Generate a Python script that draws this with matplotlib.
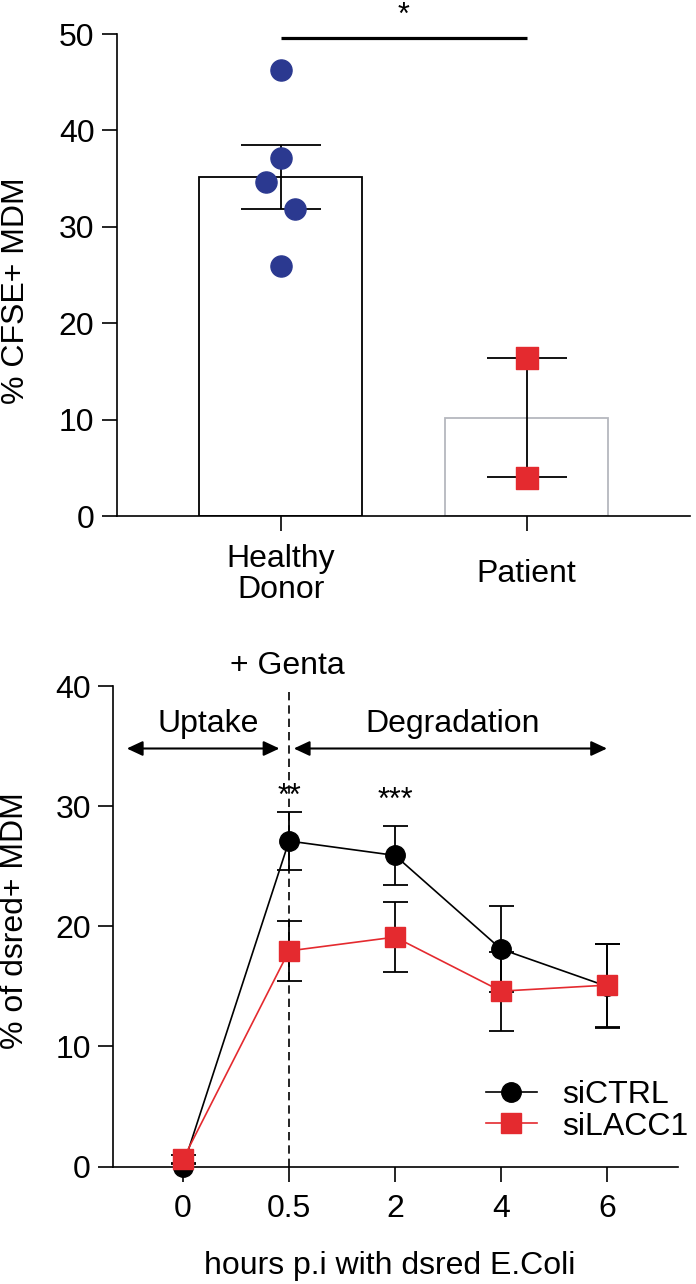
import matplotlib
matplotlib.use('Agg')
import matplotlib.pyplot as plt

plt.rcParams['font.family'] = ['Liberation Sans', 'DejaVu Sans']

# --- data, top panel (CFSE uptake) ---
groups = ['Healthy\nDonor', 'Patient']
bar_means = [35.2, 10.2]
bar_err = [3.3, 6.2]
healthy_pts = [46.3, 37.1, 34.6, 31.9, 25.9]
patient_pts = [16.4, 3.9]

# --- data, bottom panel (dsred kinetics) ---
hours = ['0', '0.5', '2', '4', '6']
ctrl = [0.0, 27.1, 25.9, 18.1, 15.0]
ctrl_err = [0.3, 2.4, 2.45, 3.6, 3.5]
lacc = [0.6, 17.95, 19.1, 14.6, 15.1]
lacc_err = [0.4, 2.5, 2.9, 3.3, 3.45]
stars = ['', '**', '***', '', '']

BLUE = '#2B3990'
RED = '#E42A2F'
FS = 23

fig = plt.figure(figsize=(6.96, 12.84), dpi=100)


def style_axis(ax):
    for s in ['top', 'right']:
        ax.spines[s].set_visible(False)
    for s in ['left', 'bottom']:
        ax.spines[s].set_linewidth(1.2)
    ax.tick_params(direction='out', length=11, width=1.2, labelsize=FS)


# ---------------- top panel ----------------
ax1 = fig.add_axes([0.1677, 0.5981, 0.8236, 0.3754])
style_axis(ax1)
xpos = list(range(len(groups)))
ax1.bar(xpos[0], bar_means[0], width=0.664, color='white', edgecolor='black', linewidth=1.3, zorder=1)
ax1.bar(xpos[1], bar_means[1], width=0.664, color='white', edgecolor='#B5B8BE', linewidth=1.3, zorder=1)
ax1.errorbar(xpos, bar_means, yerr=bar_err, fmt='none', ecolor='black', elinewidth=1.3,
             capsize=29, capthick=1.3, zorder=2)

jitter = [0, 0, -0.059, 0.059, 0]
ax1.scatter([xpos[0] + j for j in jitter], healthy_pts, s=17 ** 2 * 0.8, color=BLUE, zorder=3, clip_on=False)
ax1.scatter([xpos[1]] * len(patient_pts), patient_pts, s=16 ** 2, marker='s', color=RED, zorder=3, clip_on=False)

ax1.plot([0, 1], [49.6, 49.6], color='black', lw=2.3, clip_on=False, solid_capstyle='butt')
ax1.text(0.5, 51.0, '*', ha='center', va='baseline', fontsize=22)

ax1.set_xlim(-0.666, 1.664)
ax1.set_ylim(0, 50)
ax1.set_yticks([0, 10, 20, 30, 40, 50])
ax1.set_xticks(xpos)
ax1.set_xticklabels(groups, fontsize=FS, linespacing=1.05)
for lbl in ax1.get_xticklabels():
    lbl.set_va('center')
ax1.tick_params(axis='x', pad=31)
ax1.tick_params(axis='y', pad=5)
ax1.set_ylabel('% CFSE+ MDM', fontsize=FS, va='center')
ax1.yaxis.set_label_coords(-0.176, 0.467)

# ---------------- bottom panel ----------------
ax2 = fig.add_axes([0.1624, 0.0915, 0.8118, 0.3742])
style_axis(ax2)
x = list(range(len(hours)))

ax2.errorbar(x, ctrl, yerr=ctrl_err, fmt='none', ecolor='black', elinewidth=1.3,
             capsize=9, capthick=1.3, zorder=2)
ax2.errorbar(x, lacc, yerr=lacc_err, fmt='none', ecolor='black', elinewidth=1.3,
             capsize=9, capthick=1.3, zorder=2)
ax2.plot(x, ctrl, color='black', lw=1.2, marker='o', markersize=14, label='siCTRL',
         zorder=4, clip_on=False)
ax2.plot(x, lacc, color=RED, lw=1.2, marker='s', markersize=15, markeredgecolor=RED,
         label='siLACC1', zorder=5, clip_on=False)

ax2.plot([1, 1], [0, 39.5], color='black', lw=1.2, dashes=(5, 3), zorder=3)
ax2.text(0.98, 41.0, '+ Genta', ha='center', va='baseline', fontsize=FS, clip_on=False)

arrow_kw = dict(arrowstyle='<|-|>,head_length=0.6,head_width=0.28', color='black', lw=1.5,
                mutation_scale=16, shrinkA=0, shrinkB=0)
ax2.annotate('', xy=(0.91, 34.8), xytext=(-0.53, 34.8), arrowprops=arrow_kw)
ax2.annotate('', xy=(4.0, 34.8), xytext=(1.045, 34.8), arrowprops=arrow_kw)
ax2.text(0.24, 36.2, 'Uptake', ha='center', va='baseline', fontsize=FS)
ax2.text(2.54, 36.2, 'Degradation', ha='center', va='baseline', fontsize=FS)

for xi, s, hi in zip(x, stars, [30.1, 30.1, 29.8, 0, 0]):
    if s:
        ax2.text(xi, hi, s, ha='center', va='baseline', fontsize=22)

ax2.set_xlim(-0.66, 4.67)
ax2.set_ylim(0, 40)
ax2.set_yticks([0, 10, 20, 30, 40])
ax2.set_xticks(x)
ax2.set_xticklabels(hours)
ax2.tick_params(axis='x', pad=9)
ax2.tick_params(axis='y', pad=5)
ax2.set_ylabel('% of dsred+ MDM', fontsize=FS, va='center')
ax2.yaxis.set_label_coords(-0.174, 0.511)
ax2.set_xlabel('hours p.i with dsred E.Coli', fontsize=FS, va='center')
ax2.xaxis.set_label_coords(0.49, -0.207)

ax2.legend(loc='center left', bbox_to_anchor=(0.66, 0.116), frameon=False, fontsize=FS,
           borderpad=0, borderaxespad=0, handlelength=1.6, handletextpad=0.8, labelspacing=0.05)

fig.savefig('out.png', dpi=100)
